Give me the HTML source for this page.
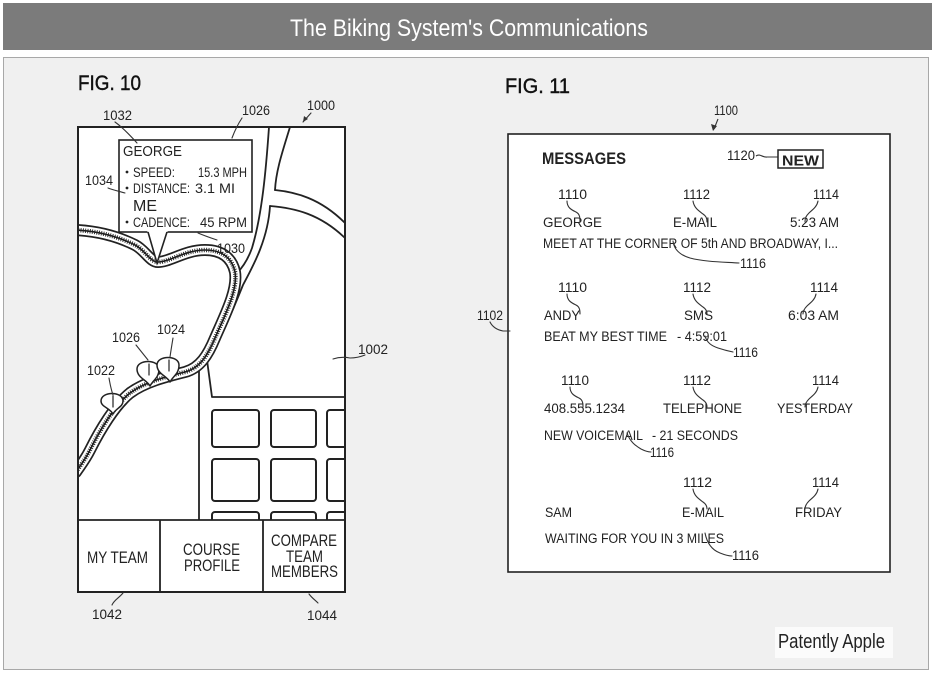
<!DOCTYPE html>
<html>
<head>
<meta charset="utf-8">
<style>
  html,body{margin:0;padding:0;background:#ffffff;}
  svg{display:block;}
  text{font-family:"Liberation Sans", Arial, sans-serif;}
</style>
</head>
<body>
<svg width="935" height="679" viewBox="0 0 935 679" xmlns="http://www.w3.org/2000/svg">
  <defs>
    <clipPath id="map10"><rect x="79" y="128" width="265" height="392"/></clipPath>
  </defs>

  <!-- Title bar -->
  <rect x="3" y="3" width="929" height="47" fill="#7b7b7b"/>
  <text x="290" y="36" font-size="24" fill="#ffffff" textLength="358" lengthAdjust="spacingAndGlyphs">The Biking System's Communications</text>

  <!-- Panel -->
  <rect x="3.5" y="57.5" width="925" height="612" fill="#f0f0f0" stroke="#a8a8a8" stroke-width="1"/>

  <!-- FIG labels -->
  <text x="78" y="90" font-size="21" fill="#111" stroke="#111" stroke-width="0.4" textLength="63" lengthAdjust="spacingAndGlyphs">FIG. 10</text>
  <text x="505" y="93" font-size="21" fill="#111" stroke="#111" stroke-width="0.4" textLength="65" lengthAdjust="spacingAndGlyphs">FIG. 11</text>

  <!-- ================= FIG 10 ================= -->
  <rect x="78" y="127" width="267" height="465" fill="#ffffff"/>

  <g clip-path="url(#map10)" fill="none" stroke="#222" stroke-width="1.8" stroke-linejoin="round" stroke-linecap="round">
    <!-- grid blocks -->
    <g stroke-width="2">
      <rect x="212" y="410" width="47" height="37" rx="3"/>
      <rect x="271" y="410" width="45" height="37" rx="3"/>
      <rect x="327" y="410" width="45" height="37" rx="3"/>
      <rect x="212" y="459" width="47" height="42" rx="3"/>
      <rect x="271" y="459" width="45" height="42" rx="3"/>
      <rect x="327" y="459" width="45" height="42" rx="3"/>
      <rect x="212" y="512" width="47" height="40" rx="3"/>
      <rect x="271" y="512" width="45" height="40" rx="3"/>
      <rect x="327" y="512" width="45" height="40" rx="3"/>
    </g>
    <!-- roads -->
    <path d="M269 127 C266 170, 262 215, 252 248 C247 262, 240 270, 237 273"/>
    <path d="M290 127 C283 150, 276 170, 275 190"/>
    <path d="M275 190 C295 192, 320 198, 345 223"/>
    <path d="M270 206 C295 208, 320 214, 345 238"/>
    <path d="M270 206 C268 240, 252 268, 243 285 C235 305, 220 340, 207 360 L212 397 L345 397"/>
    <path d="M199 369 L199 520"/>

    <!-- trail -->
    <path d="M76 230 C95 231, 115 235, 135 245 C145 250, 150 262, 158 262 C170 262, 185 250, 205 250 C222 250, 232 258, 235 272 C238 290, 225 315, 215 338 C208 355, 200 368, 185 372 C165 377, 145 382, 130 393 C115 405, 100 430, 90 450 C85 460, 80 466, 76 472" stroke="#222" stroke-width="12"/>
    <path d="M76 230 C95 231, 115 235, 135 245 C145 250, 150 262, 158 262 C170 262, 185 250, 205 250 C222 250, 232 258, 235 272 C238 290, 225 315, 215 338 C208 355, 200 368, 185 372 C165 377, 145 382, 130 393 C115 405, 100 430, 90 450 C85 460, 80 466, 76 472" stroke="#ffffff" stroke-width="8.6"/>
    <path d="M76 230 C95 231, 115 235, 135 245 C145 250, 150 262, 158 262 C170 262, 185 250, 205 250 C222 250, 232 258, 235 272 C238 290, 225 315, 215 338 C208 355, 200 368, 185 372 C165 377, 145 382, 130 393 C115 405, 100 430, 90 450 C85 460, 80 466, 76 472" stroke="#1a1a1a" stroke-width="1.6"/>
    <path d="M76 230 C95 231, 115 235, 135 245 C145 250, 150 262, 158 262 C170 262, 185 250, 205 250 C222 250, 232 258, 235 272 C238 290, 225 315, 215 338 C208 355, 200 368, 185 372 C165 377, 145 382, 130 393 C115 405, 100 430, 90 450 C85 460, 80 466, 76 472" stroke="#222" stroke-width="4.5" stroke-dasharray="0.9 1.4" stroke-linecap="butt"/>

    <!-- pins -->
    <g fill="#ffffff" stroke="#222" stroke-width="1.5">
      <path d="M113 414 C110 408, 101 407, 101 401 C101 391, 123 391, 123 401 C123 407, 116 408, 113 414 Z"/>
      <path d="M150 386 C147 380, 137 378, 137 369 C137 359, 159 359, 159 369 C159 378, 153 380, 150 386 Z"/>
      <path d="M170 382 C167 376, 157 374, 157 365 C157 355, 179 355, 179 365 C179 374, 173 376, 170 382 Z"/>
    </g>
    <g stroke="#222" stroke-width="1.2">
      <line x1="113" y1="396" x2="113" y2="407"/>
      <line x1="149" y1="364" x2="149" y2="375"/>
      <line x1="169" y1="360" x2="169" y2="371"/>
    </g>
  </g>

  <!-- callout -->
  <rect x="119" y="140" width="133" height="92" fill="#ffffff" stroke="#222" stroke-width="1.6"/>
  <polygon points="147,230 157,263 168,230" fill="#ffffff"/>
  <polyline points="148,232 157,263 167,232" fill="none" stroke="#222" stroke-width="1.6"/>
  <g fill="#222">
    <text x="123" y="156" font-size="15" textLength="59" lengthAdjust="spacingAndGlyphs">GEORGE</text>
    <circle cx="127" cy="172" r="1.4"/>
    <circle cx="127" cy="188" r="1.4"/>
    <circle cx="127" cy="222" r="1.4"/>
    <text x="133" y="177" font-size="13.5" textLength="42" lengthAdjust="spacingAndGlyphs">SPEED:</text>
    <text x="198" y="177" font-size="13.5" textLength="49" lengthAdjust="spacingAndGlyphs">15.3 MPH</text>
    <text x="133" y="193" font-size="13.5" textLength="57" lengthAdjust="spacingAndGlyphs">DISTANCE:</text>
    <text x="195" y="193" font-size="13.5" textLength="40" lengthAdjust="spacingAndGlyphs">3.1 MI</text>
    <text x="133" y="211" font-size="16" textLength="24" lengthAdjust="spacingAndGlyphs">ME</text>
    <text x="133" y="227" font-size="13.5" textLength="57" lengthAdjust="spacingAndGlyphs">CADENCE:</text>
    <text x="200" y="227" font-size="13.5" textLength="47" lengthAdjust="spacingAndGlyphs">45 RPM</text>
  </g>

  <!-- bottom bar -->
  <g stroke="#222" stroke-width="1.8" fill="none">
    <line x1="78" y1="520" x2="345" y2="520"/>
    <line x1="160" y1="520" x2="160" y2="592"/>
    <line x1="263" y1="520" x2="263" y2="592"/>
    <rect x="78" y="127" width="267" height="465" stroke-width="2"/>
  </g>
  <g fill="#222" font-size="17">
    <text x="87" y="563" textLength="61" lengthAdjust="spacingAndGlyphs">MY TEAM</text>
    <text x="183" y="555" textLength="57" lengthAdjust="spacingAndGlyphs">COURSE</text>
    <text x="184" y="571" textLength="56" lengthAdjust="spacingAndGlyphs">PROFILE</text>
    <text x="271" y="546" textLength="66" lengthAdjust="spacingAndGlyphs">COMPARE</text>
    <text x="286" y="562" textLength="37" lengthAdjust="spacingAndGlyphs">TEAM</text>
    <text x="271" y="577" textLength="67" lengthAdjust="spacingAndGlyphs">MEMBERS</text>
  </g>

  <!-- fig 10 reference labels -->
  <g fill="#222" font-size="13.5">
    <text x="103" y="120" textLength="29" lengthAdjust="spacingAndGlyphs">1032</text>
    <text x="242" y="115" textLength="28" lengthAdjust="spacingAndGlyphs">1026</text>
    <text x="307" y="110" textLength="28" lengthAdjust="spacingAndGlyphs">1000</text>
    <text x="85" y="185" textLength="28" lengthAdjust="spacingAndGlyphs">1034</text>
    <text x="217" y="253" textLength="28" lengthAdjust="spacingAndGlyphs">1030</text>
    <text x="112" y="342" textLength="28" lengthAdjust="spacingAndGlyphs">1026</text>
    <text x="157" y="334" textLength="28" lengthAdjust="spacingAndGlyphs">1024</text>
    <text x="87" y="375" textLength="28" lengthAdjust="spacingAndGlyphs">1022</text>
    <text x="358" y="354" textLength="30" lengthAdjust="spacingAndGlyphs">1002</text>
    <text x="92" y="619" textLength="30" lengthAdjust="spacingAndGlyphs">1042</text>
    <text x="307" y="620" textLength="30" lengthAdjust="spacingAndGlyphs">1044</text>
  </g>
  <g fill="none" stroke="#333" stroke-width="1.1" stroke-linecap="round">
    <path d="M115 122 C122 127, 128 133, 137 143"/>
    <path d="M242 118 C238 124, 235 130, 232 138"/>
    <path d="M311 113 L303 122"/>
    <path d="M108 188 C113 190, 118 191, 125 193"/>
    <path d="M198 233 C205 236, 211 238, 217 240"/>
    <path d="M136 345 C140 350, 144 355, 148 360"/>
    <path d="M173 338 C172 344, 171 350, 170 357"/>
    <path d="M109 378 C110 384, 111 389, 113 395"/>
    <path d="M333 359 C339 357, 345 357, 350 358 C356 358, 360 357, 365 355"/>
    <path d="M123 593 C119 598, 114 600, 112 605"/>
    <path d="M309 594 C312 598, 315 600, 318 603"/>
  </g>
  <polygon points="303,122 304,116 308,119" fill="#333"/>

  <!-- ================= FIG 11 ================= -->
  <rect x="508" y="134" width="382" height="438" fill="#ffffff" stroke="#222" stroke-width="1.6"/>

  <text x="714" y="115" font-size="13.5" fill="#222" textLength="24" lengthAdjust="spacingAndGlyphs">1100</text>
  <path d="M718 119 L714 129" stroke="#333" stroke-width="1.1" fill="none"/>
  <polygon points="713,131 711,124 717,126" fill="#333"/>

  <text x="542" y="164" font-size="17" font-weight="bold" fill="#222" textLength="84" lengthAdjust="spacingAndGlyphs">MESSAGES</text>
  <text x="727" y="160" font-size="13.5" fill="#222" textLength="28" lengthAdjust="spacingAndGlyphs">1120</text>
  <path d="M756 156 C760 153, 763 158, 767 157 L778 157" stroke="#333" stroke-width="1.1" fill="none"/>
  <rect x="778" y="150" width="45" height="18" fill="#ffffff" stroke="#222" stroke-width="1.5"/>
  <text x="782" y="165.5" font-size="15" font-weight="bold" fill="#222" textLength="37" lengthAdjust="spacingAndGlyphs">NEW</text>

  <g fill="#222" font-size="13.5">
    <!-- row 1 -->
    <text x="558" y="199" textLength="29" lengthAdjust="spacingAndGlyphs">1110</text>
    <text x="683" y="199" textLength="27" lengthAdjust="spacingAndGlyphs">1112</text>
    <text x="813" y="199" textLength="26" lengthAdjust="spacingAndGlyphs">1114</text>
    <text x="543" y="227" textLength="59" lengthAdjust="spacingAndGlyphs">GEORGE</text>
    <text x="673" y="227" textLength="44" lengthAdjust="spacingAndGlyphs">E-MAIL</text>
    <text x="790" y="227" textLength="49" lengthAdjust="spacingAndGlyphs">5:23 AM</text>
    <text x="543" y="248" textLength="295" lengthAdjust="spacingAndGlyphs">MEET AT THE CORNER OF 5th AND BROADWAY, I...</text>
    <text x="740" y="268" textLength="26" lengthAdjust="spacingAndGlyphs">1116</text>

    <!-- row 2 -->
    <text x="558" y="292" textLength="29" lengthAdjust="spacingAndGlyphs">1110</text>
    <text x="683" y="292" textLength="28" lengthAdjust="spacingAndGlyphs">1112</text>
    <text x="810" y="292" textLength="28" lengthAdjust="spacingAndGlyphs">1114</text>
    <text x="544" y="320" textLength="36" lengthAdjust="spacingAndGlyphs">ANDY</text>
    <text x="684" y="320" textLength="29" lengthAdjust="spacingAndGlyphs">SMS</text>
    <text x="788" y="320" textLength="51" lengthAdjust="spacingAndGlyphs">6:03 AM</text>
    <text x="544" y="341" textLength="123" lengthAdjust="spacingAndGlyphs">BEAT MY BEST TIME</text>
    <text x="677" y="341" textLength="50" lengthAdjust="spacingAndGlyphs">- 4:59:01</text>
    <text x="733" y="357" textLength="25" lengthAdjust="spacingAndGlyphs">1116</text>

    <!-- row 3 -->
    <text x="561" y="385" textLength="28" lengthAdjust="spacingAndGlyphs">1110</text>
    <text x="683" y="385" textLength="28" lengthAdjust="spacingAndGlyphs">1112</text>
    <text x="812" y="385" textLength="27" lengthAdjust="spacingAndGlyphs">1114</text>
    <text x="544" y="413" textLength="81" lengthAdjust="spacingAndGlyphs">408.555.1234</text>
    <text x="663" y="413" textLength="79" lengthAdjust="spacingAndGlyphs">TELEPHONE</text>
    <text x="777" y="413" textLength="76" lengthAdjust="spacingAndGlyphs">YESTERDAY</text>
    <text x="544" y="440" textLength="99" lengthAdjust="spacingAndGlyphs">NEW VOICEMAIL</text>
    <text x="652" y="440" textLength="86" lengthAdjust="spacingAndGlyphs">- 21 SECONDS</text>
    <text x="650" y="457" textLength="24" lengthAdjust="spacingAndGlyphs">1116</text>

    <!-- row 4 -->
    <text x="683" y="487" textLength="29" lengthAdjust="spacingAndGlyphs">1112</text>
    <text x="812" y="487" textLength="27" lengthAdjust="spacingAndGlyphs">1114</text>
    <text x="545" y="517" textLength="27" lengthAdjust="spacingAndGlyphs">SAM</text>
    <text x="682" y="517" textLength="42" lengthAdjust="spacingAndGlyphs">E-MAIL</text>
    <text x="795" y="517" textLength="47" lengthAdjust="spacingAndGlyphs">FRIDAY</text>
    <text x="545" y="543" textLength="179" lengthAdjust="spacingAndGlyphs">WAITING FOR YOU IN 3 MILES</text>
    <text x="732" y="560" textLength="27" lengthAdjust="spacingAndGlyphs">1116</text>

    <!-- 1102 -->
    <text x="477" y="320" textLength="26" lengthAdjust="spacingAndGlyphs">1102</text>
  </g>

  <!-- fig 11 leaders -->
  <g fill="none" stroke="#333" stroke-width="1.1" stroke-linecap="round">
    <!-- row 1 -->
    <path d="M567 201 C567 208, 572 210, 576 212 C580 214, 580 218, 580 222"/>
    <path d="M693 201 C694 208, 699 211, 703 214 C706 216, 707 218, 707 222"/>
    <path d="M818 201 C817 207, 812 210, 809 213 C806 216, 805 218, 805 222"/>
    <path d="M673 241 C674 250, 680 255, 690 258 C705 262, 725 262, 739 263"/>
    <!-- row 2 -->
    <path d="M567 294 C567 301, 572 303, 576 305 C580 307, 580 311, 580 314"/>
    <path d="M693 294 C694 301, 699 304, 703 307 C706 309, 707 311, 707 314"/>
    <path d="M816 294 C815 300, 810 303, 807 306 C804 309, 803 311, 803 314"/>
    <path d="M705 336 C707 343, 712 346, 718 348 C724 350, 728 351, 733 352"/>
    <!-- row 3 -->
    <path d="M570 387 C570 394, 575 396, 579 398 C583 400, 583 404, 583 407"/>
    <path d="M693 387 C694 394, 699 397, 703 400 C706 402, 707 404, 707 407"/>
    <path d="M818 387 C817 393, 812 396, 809 399 C806 402, 805 404, 805 407"/>
    <path d="M627 433 C630 442, 636 446, 641 449 C645 451, 648 452, 651 452"/>
    <!-- row 4 -->
    <path d="M693 489 C694 496, 699 499, 703 502 C706 504, 707 506, 707 509"/>
    <path d="M818 489 C817 495, 812 498, 809 501 C806 504, 805 506, 805 509"/>
    <path d="M705 533 C707 543, 712 550, 720 553 C725 555, 729 556, 732 556"/>
    <!-- 1102 -->
    <path d="M490 322 C493 328, 498 330, 503 331 C506 331, 508 331, 510 331"/>
  </g>

  <!-- watermark -->
  <rect x="775" y="627" width="118" height="31" fill="#fbfbfb"/>
  <text x="778" y="648" font-size="20" fill="#222" textLength="107" lengthAdjust="spacingAndGlyphs">Patently Apple</text>
</svg>
</body>
</html>
